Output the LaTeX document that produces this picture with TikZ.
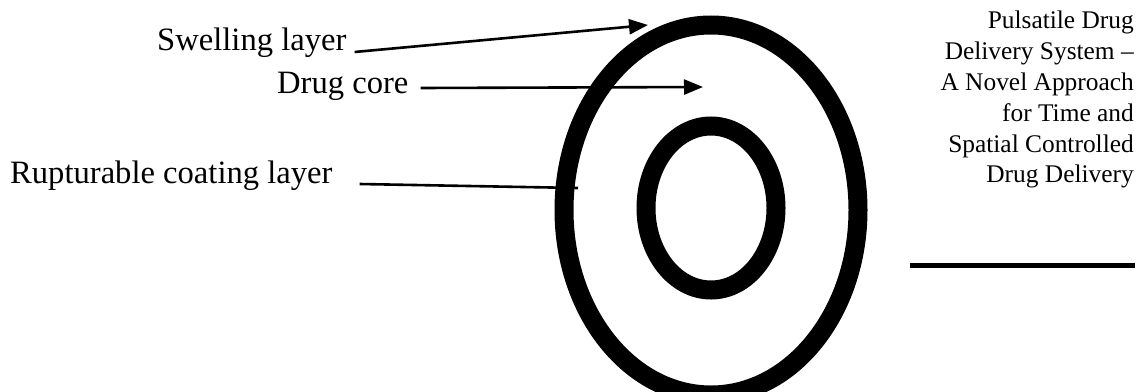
\documentclass[tikz,border=0pt]{standalone}
\usepackage{fontspec}
\setmainfont{Liberation Serif}
\usetikzlibrary{arrows.meta}
\tikzset{
  ring/.style={line width=19pt},
  label/.style={inner sep=0pt,font=\fontsize{32.6}{38}\selectfont},
  pointer/.style={line width=2.6pt,-{Triangle[length=19pt,width=15pt]}},
  leader/.style={line width=2.6pt}
}
\begin{document}
\begin{tikzpicture}[x=1pt,y=-1pt]
\useasboundingbox (0,0) rectangle (1138,391);
\clip (0,0) rectangle (1138,391);
% rings
\draw[ring] (711,210) ellipse [x radius=147pt,y radius=185pt];
\draw[ring] (711,208) ellipse [x radius=65pt,y radius=82pt];
% labels
\node[label,anchor=base west] (swell) at (157,50) {Swelling layer};
\node[label,anchor=base west] (core) at (277,93) {Drug core};
\node[label,anchor=base west] (coat) at (10,183) {Rupturable coating layer};
\coordinate (swelltip) at (648,25);
\coordinate (coretip) at (703,87);
\coordinate (coatend) at (578,188);
\draw[pointer] ([xshift=8pt,yshift=-2pt]swell.base east) -- (swelltip);
\draw[pointer] ([xshift=12pt,yshift=5pt]core.base east) -- (coretip);
\draw[leader] ([xshift=27pt,yshift=-1pt]coat.base east) -- (coatend);
% running title
\node[inner sep=0pt,anchor=north east,align=right,
  font=\fontsize{25.4}{30.8}\selectfont] (title) at (1134,11)
  {Pulsatile Drug\\Delivery System --\\A Novel Approach\\for Time and\\Spatial Controlled\\Drug Delivery};
\draw[line width=5pt] (910,265) -- (1135,265);
\end{tikzpicture}
\end{document}
